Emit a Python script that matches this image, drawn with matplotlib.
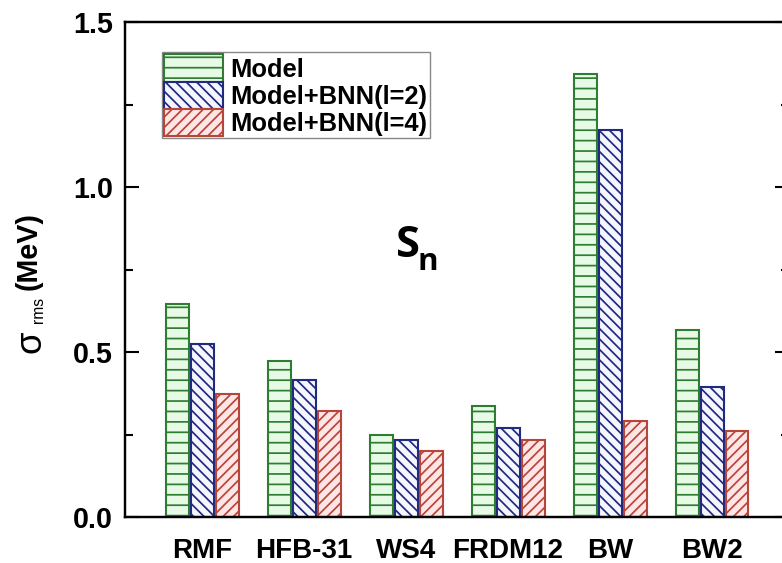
import numpy as np
import matplotlib
matplotlib.use("Agg")
import matplotlib.pyplot as plt
from matplotlib.ticker import MultipleLocator, FormatStrFormatter
from matplotlib.transforms import IdentityTransform

# data
categories = ["RMF", "HFB-31", "WS4", "FRDM12", "BW", "BW2"]
model = [0.647, 0.473, 0.250, 0.336, 1.342, 0.567]
bnn_l2 = [0.523, 0.416, 0.233, 0.271, 1.173, 0.393]
bnn_l4 = [0.372, 0.321, 0.201, 0.233, 0.291, 0.261]
labels = ["Model", "Model+BNN(l=2)", "Model+BNN(l=4)"]

plt.rcParams["font.family"] = ["Liberation Sans", "DejaVu Sans"]
plt.rcParams["hatch.linewidth"] = 1.0

DPI = 125
fig = plt.figure(figsize=(782 / DPI, 563 / DPI), dpi=DPI)
ax = fig.add_axes([0.160, 0.0817, 0.849, 0.879])

x = np.arange(len(categories))
pitch = 0.245
width = 0.225

styles = [
    dict(facecolor="#e6fae6", edgecolor="#2f7d32", hatch="--"),
    dict(facecolor="#f6f6ff", edgecolor="#1f2a80", hatch="\\\\\\\\"),
    dict(facecolor="#ffe6e6", edgecolor="#b8453a", hatch="////"),
]
series = [model, bnn_l2, bnn_l4]

for i, (vals, st, lab) in enumerate(zip(series, styles, labels)):
    ax.bar(x + (i - 1) * pitch, vals, width, label=lab, linewidth=1.2, **st)

ax.set_xlim(-0.755, 5.755)
ax.set_ylim(0, 1.5)
ax.set_xticks(x)
ax.set_xticklabels(categories, fontsize=16, fontweight="bold")
ax.yaxis.set_major_locator(MultipleLocator(0.5))
ax.yaxis.set_minor_locator(MultipleLocator(0.25))
ax.yaxis.set_major_formatter(FormatStrFormatter("%.1f"))
for t in ax.get_yticklabels():
    t.set_fontsize(16.5)
    t.set_fontweight("bold")

ax.tick_params(axis="x", length=0, pad=12)
ax.tick_params(axis="y", which="both", direction="in", left=True, right=True, width=1.2, pad=7)
ax.tick_params(axis="y", which="major", length=8)
ax.tick_params(axis="y", which="minor", length=4.5)

for sp in ax.spines.values():
    sp.set_linewidth(1.4)

# y label: sigma_rms (MeV), built from pieces (pixel positions, origin bottom-left)
px = IdentityTransform()
lab_kw = dict(transform=px, rotation=90, rotation_mode="anchor", ha="left", va="baseline")
fig.text(40, 210, "σ", fontsize=21, **lab_kw)
fig.text(43, 240, "rms", fontsize=9, **lab_kw)
fig.text(37, 273, "(MeV)", fontsize=16.5, fontweight="bold", **lab_kw)

# panel label S_n
ax.text(396, 306, "S", transform=px, fontsize=25, fontweight="bold",
        family="Open Sans", ha="left", va="baseline")
ax.text(418, 293, "n", transform=px, fontsize=18, fontweight="bold",
        family="Open Sans", ha="left", va="baseline")

leg = ax.legend(loc="upper left", bbox_to_anchor=(0.056, 0.939), borderaxespad=0,
                prop=dict(weight="bold", size=14.7),
                handlelength=2.3, handleheight=1.27, labelspacing=0,
                handletextpad=0.3, borderpad=0.08, fancybox=False,
                edgecolor="#888888", framealpha=1)
leg.get_frame().set_linewidth(0.8)

fig.savefig("out.png", dpi=DPI)
